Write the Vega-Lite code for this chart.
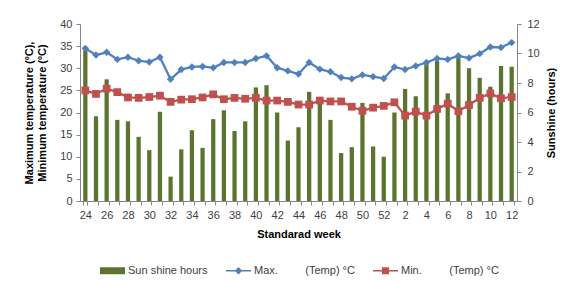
{
  "$schema": "https://vega.github.io/schema/vega-lite/v6.json",
  "width": 437,
  "height": 177,
  "autosize": "none",
  "padding": {"left": 80, "top": 24, "right": 54, "bottom": 81},
  "config": {
    "view": {"stroke": null},
    "font": "Liberation Sans",
    "axis": {"labelFont": "Liberation Sans", "labelFontSize": 11, "labelColor": "#404040", "titleFont": "Liberation Sans", "titleFontSize": 11, "titleFontWeight": "bold", "titleColor": "#000000", "domainColor": "#868686", "tickColor": "#868686", "grid": false, "tickSize": 4}
  },
  "data": {"values": [
    {"week": "24", "sun": 10.3, "max": 34.5, "min": 25.0},
    {"week": "25", "sun": 5.75, "max": 33.0, "min": 24.2},
    {"week": "26", "sun": 8.25, "max": 33.6, "min": 25.4},
    {"week": "27", "sun": 5.5, "max": 32.0, "min": 24.6},
    {"week": "28", "sun": 5.4, "max": 32.5, "min": 23.4},
    {"week": "29", "sun": 4.35, "max": 31.7, "min": 23.3},
    {"week": "30", "sun": 3.45, "max": 31.4, "min": 23.5},
    {"week": "31", "sun": 6.05, "max": 32.5, "min": 23.8},
    {"week": "32", "sun": 1.65, "max": 27.5, "min": 22.4},
    {"week": "33", "sun": 3.5, "max": 29.7, "min": 22.9},
    {"week": "34", "sun": 4.8, "max": 30.3, "min": 23.0},
    {"week": "35", "sun": 3.6, "max": 30.4, "min": 23.4},
    {"week": "36", "sun": 5.55, "max": 30.1, "min": 24.1},
    {"week": "37", "sun": 6.15, "max": 31.3, "min": 23.0},
    {"week": "38", "sun": 4.75, "max": 31.3, "min": 23.3},
    {"week": "39", "sun": 5.4, "max": 31.3, "min": 23.1},
    {"week": "40", "sun": 7.7, "max": 32.2, "min": 23.3},
    {"week": "41", "sun": 7.85, "max": 32.8, "min": 22.7},
    {"week": "42", "sun": 6.0, "max": 30.1, "min": 22.7},
    {"week": "43", "sun": 4.1, "max": 29.4, "min": 22.4},
    {"week": "44", "sun": 5.0, "max": 28.7, "min": 21.8},
    {"week": "45", "sun": 7.4, "max": 31.3, "min": 21.8},
    {"week": "46", "sun": 6.8, "max": 29.8, "min": 22.7},
    {"week": "47", "sun": 5.5, "max": 29.2, "min": 22.5},
    {"week": "48", "sun": 3.25, "max": 27.9, "min": 22.5},
    {"week": "49", "sun": 3.65, "max": 27.6, "min": 21.3},
    {"week": "50", "sun": 6.65, "max": 28.5, "min": 20.4},
    {"week": "51", "sun": 3.7, "max": 28.1, "min": 21.1},
    {"week": "52", "sun": 3.0, "max": 27.7, "min": 21.5},
    {"week": "1", "sun": 6.0, "max": 30.3, "min": 22.3},
    {"week": "2", "sun": 7.6, "max": 29.7, "min": 19.3},
    {"week": "3", "sun": 7.1, "max": 30.5, "min": 20.2},
    {"week": "4", "sun": 9.3, "max": 31.3, "min": 19.3},
    {"week": "5", "sun": 9.5, "max": 32.2, "min": 20.8},
    {"week": "6", "sun": 7.3, "max": 32.0, "min": 22.0},
    {"week": "7", "sun": 9.8, "max": 32.8, "min": 20.3},
    {"week": "8", "sun": 9.0, "max": 32.3, "min": 21.7},
    {"week": "9", "sun": 8.35, "max": 33.3, "min": 23.3},
    {"week": "10", "sun": 7.75, "max": 34.8, "min": 24.3},
    {"week": "11", "sun": 9.15, "max": 34.7, "min": 23.2},
    {"week": "12", "sun": 9.1, "max": 35.8, "min": 23.5}
  ]},
  "encoding": {
    "x": {
      "field": "week", "type": "nominal", "sort": null,
      "scale": {"paddingInner": 0.6, "paddingOuter": 0.3},
      "axis": {"title": "Standarad week", "labelAngle": 0, "tickBand": "extent", "labelExpr": "toNumber(datum.value) % 2 === 0 ? datum.label : ''", "labelPadding": 4, "titlePadding": 8}
    },
    "color": {
      "type": "nominal",
      "scale": {
        "domain": ["Sun shine hours", "Max.\u00a0\u00a0\u00a0\u00a0\u00a0\u00a0\u00a0\u00a0\u00a0(Temp) °C", "Min.\u00a0\u00a0\u00a0\u00a0\u00a0\u00a0\u00a0\u00a0\u00a0(Temp) °C"],
        "range": ["#5B7530", "#4F81BD", "#C0504D"]
      },
      "legend": {
        "title": null,
        "orient": "none",
        "direction": "horizontal",
        "legendX": 20,
        "legendY": 234,
        "symbolSize": 625,
        "labelFont": "Liberation Sans",
        "labelFontSize": 11,
        "labelColor": "#404040",
        "labelOffset": 3,
        "columnPadding": 18,
        "symbolOpacity": 1,
        "encode": {
          "symbols": {
            "update": {
              "shape": {"signal": "datum.index === 0 ? 'M-1,-0.28H1V0.28H-1Z' : (datum.index === 1 ? 'M-1,-0.06H1V0.06H-1Z M0,-0.3L0.3,0L0,0.3L-0.3,0Z' : 'M-1,-0.06H1V0.06H-1Z M-0.28,-0.28H0.28V0.28H-0.28Z')"},
              "fill": {"scale": "color", "field": "value"},
              "stroke": {"value": null},
              "strokeWidth": {"value": 0},
              "opacity": {"value": 1}
            }
          }
        }
      }
    }
  },
  "layer": [
    {
      "mark": {"type": "bar"},
      "encoding": {
        "y": {"field": "sun", "type": "quantitative", "scale": {"domain": [0, 12]},
          "axis": {"orient": "right", "title": "Sunshine (hours)", "values": [0, 2, 4, 6, 8, 10, 12], "titleAngle": -90, "titleBaseline": "bottom", "titlePadding": 17, "labelPadding": 6}},
        "color": {"datum": "Sun shine hours"}
      }
    },
    {
      "layer": [
        {"mark": {"type": "line", "strokeWidth": 2.25}, "encoding": {"y": {"field": "max", "type": "quantitative"}, "color": {"datum": "Max.\u00a0\u00a0\u00a0\u00a0\u00a0\u00a0\u00a0\u00a0\u00a0(Temp) °C"}}},
        {"mark": {"type": "point", "shape": "diamond", "filled": true, "size": 55, "opacity": 1}, "encoding": {"y": {"field": "max", "type": "quantitative"}, "color": {"datum": "Max.\u00a0\u00a0\u00a0\u00a0\u00a0\u00a0\u00a0\u00a0\u00a0(Temp) °C"}}},
        {"mark": {"type": "line", "strokeWidth": 2.25}, "encoding": {"y": {"field": "min", "type": "quantitative"}, "color": {"datum": "Min.\u00a0\u00a0\u00a0\u00a0\u00a0\u00a0\u00a0\u00a0\u00a0(Temp) °C"}}},
        {"mark": {"type": "point", "shape": "square", "filled": true, "size": 60, "opacity": 1}, "encoding": {"y": {"field": "min", "type": "quantitative"}, "color": {"datum": "Min.\u00a0\u00a0\u00a0\u00a0\u00a0\u00a0\u00a0\u00a0\u00a0(Temp) °C"}}}
      ],
      "encoding": {
        "y": {"type": "quantitative", "scale": {"domain": [0, 40]},
          "axis": {"orient": "left", "title": ["Maximum temperature (ºC),", "Minimum temperature (ºC)"], "values": [0, 5, 10, 15, 20, 25, 30, 35, 40], "titlePadding": 12, "labelPadding": 4}}
      }
    }
  ],
  "resolve": {"scale": {"y": "independent"}}
}
